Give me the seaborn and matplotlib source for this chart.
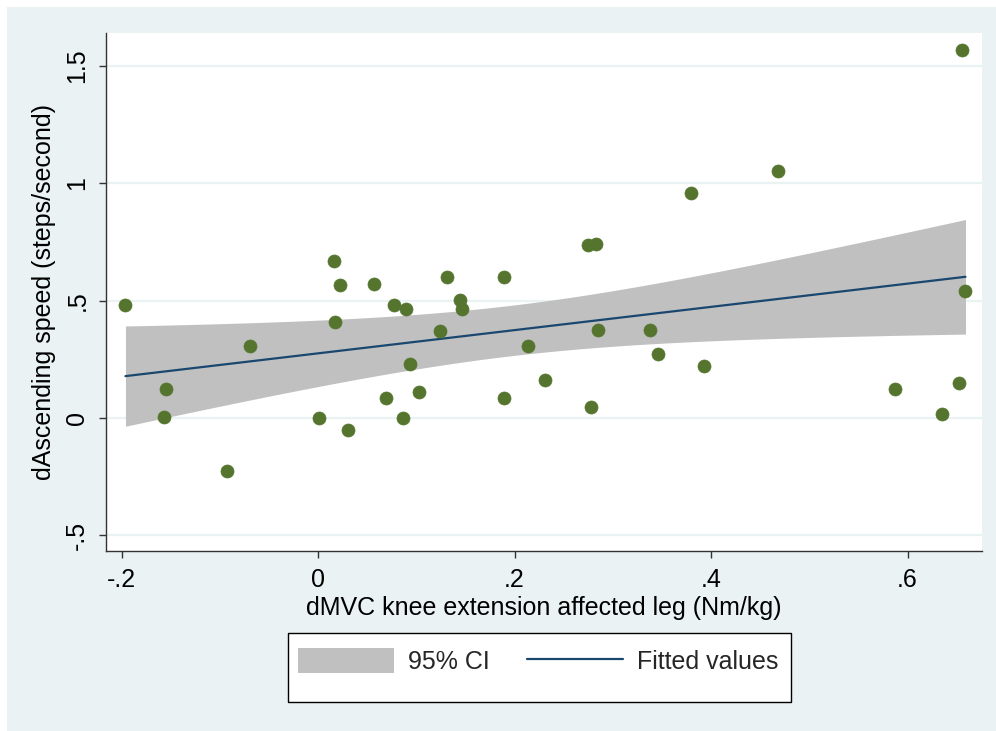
import numpy as np
import pandas as pd
import matplotlib
matplotlib.use("Agg")
import matplotlib.pyplot as plt
from matplotlib.patches import Patch, Rectangle
from matplotlib.lines import Line2D
import seaborn as sns

# Change in knee extension strength vs change in stair ascending speed
dmvc = [-0.196, -0.157, -0.155, -0.093, -0.069, 0.001, 0.016, 0.017, 0.022, 0.031,
        0.057, 0.069, 0.077, 0.086, 0.090, 0.094, 0.103, 0.124, 0.131, 0.145,
        0.147, 0.189, 0.189, 0.214, 0.231, 0.275, 0.278, 0.283, 0.285, 0.338,
        0.346, 0.380, 0.393, 0.468, 0.587, 0.635, 0.652, 0.655, 0.659]
dspeed = [0.480, 0.006, 0.122, -0.226, 0.308, 0.001, 0.670, 0.409, 0.566, -0.051,
          0.571, 0.087, 0.482, -0.001, 0.463, 0.229, 0.112, 0.370, 0.601, 0.503,
          0.466, 0.602, 0.084, 0.308, 0.162, 0.737, 0.047, 0.743, 0.375, 0.375,
          0.274, 0.959, 0.223, 1.051, 0.122, 0.018, 0.148, 1.569, 0.541]

x_ticks = [-0.2, 0.0, 0.2, 0.4, 0.6]
x_tick_labels = ["-.2", "0", ".2", ".4", ".6"]
y_ticks = [-0.5, 0.0, 0.5, 1.0, 1.5]
y_tick_labels = ["-.5", "0", ".5", "1", "1.5"]

x_title = "dMVC knee extension affected leg (Nm/kg)"
y_title = "dAscending speed (steps/second)"
legend_labels = ["95% CI", "Fitted values"]

BG = "#EAF2F3"
POINT = "#55752F"
NAVY = "#1A476F"
BAND = "#C0C0C0"

sns.set_theme(style="white")
plt.rcParams["font.family"] = ["Liberation Sans", "DejaVu Sans"]

df = pd.DataFrame({"dmvc": dmvc, "dspeed": dspeed})

# Ordinary least squares fit with 95% confidence band of the mean prediction
n = len(df)
slope, intercept = np.polyfit(df["dmvc"], df["dspeed"], 1)
resid = df["dspeed"] - (intercept + slope * df["dmvc"])
s = np.sqrt((resid ** 2).sum() / (n - 2))
xbar = df["dmvc"].mean()
sxx = ((df["dmvc"] - xbar) ** 2).sum()
t975 = 2.026  # t quantile, 37 degrees of freedom
xs = np.linspace(df["dmvc"].min(), df["dmvc"].max(), 200)
fit = pd.DataFrame({"dmvc": xs, "fitted": intercept + slope * xs})
half = t975 * s * np.sqrt(1.0 / n + (xs - xbar) ** 2 / sxx)

W, H = 996, 731
fig = plt.figure(figsize=(W / 100, H / 100), dpi=100, facecolor="white")
fig.patches.append(Rectangle((7 / W, 0), 1, 1 - 7 / H, transform=fig.transFigure,
                             facecolor=BG, edgecolor="none", zorder=-2))

ax = fig.add_axes([106 / W, 1 - 551 / H, (982 - 106) / W, (551 - 33) / H])
ax.set_facecolor("white")

for yt in y_ticks:
    ax.axhline(yt, color=BG, lw=1.6, zorder=0)

ax.fill_between(xs, fit["fitted"] - half, fit["fitted"] + half,
                color=BAND, lw=0, zorder=1)
sns.lineplot(data=fit, x="dmvc", y="fitted", ax=ax, color=NAVY, lw=1.6, zorder=2)
sns.scatterplot(data=df, x="dmvc", y="dspeed", ax=ax, color=POINT, s=88,
                edgecolor=POINT, linewidth=0.5, zorder=3)

ax.set_xlim(-0.2158, 0.6758)
ax.set_ylim(-0.567, 1.641)
ax.set_xticks(x_ticks)
ax.set_xticklabels(x_tick_labels)
ax.set_yticks(y_ticks)
ax.set_yticklabels(y_tick_labels, rotation=90, va="center")
ax.tick_params(axis="both", which="major", direction="out", length=5, width=1,
               color="#333333", labelsize=18, labelcolor="black", pad=7,
               bottom=True, left=True)
for side in ["top", "right"]:
    ax.spines[side].set_visible(False)
for side in ["left", "bottom"]:
    ax.spines[side].set_color("#333333")
    ax.spines[side].set_linewidth(1.0)

ax.set_xlabel(x_title, fontsize=18, color="black", labelpad=3)
ax.set_ylabel(y_title, fontsize=18, color="black", labelpad=7)

# Legend box below the plot
fig.patches.append(Rectangle((288 / W, 1 - 702 / H), (791 - 288) / W, (702 - 633) / H,
                             transform=fig.transFigure, facecolor="white",
                             edgecolor="black", lw=1.0, zorder=2))
handles = [Patch(facecolor=BAND, edgecolor="none"),
           Line2D([0], [0], color=NAVY, lw=1.6)]
fig.legend(handles, legend_labels, loc="center left",
           bbox_to_anchor=(298 / W, 1 - 661 / H), bbox_transform=fig.transFigure,
           ncol=2, frameon=False, fontsize=18, borderpad=0, borderaxespad=0,
           handlelength=3.84, handleheight=1.12, handletextpad=0.56,
           columnspacing=1.5)

fig.savefig("out.png", dpi=100, facecolor=fig.get_facecolor())
